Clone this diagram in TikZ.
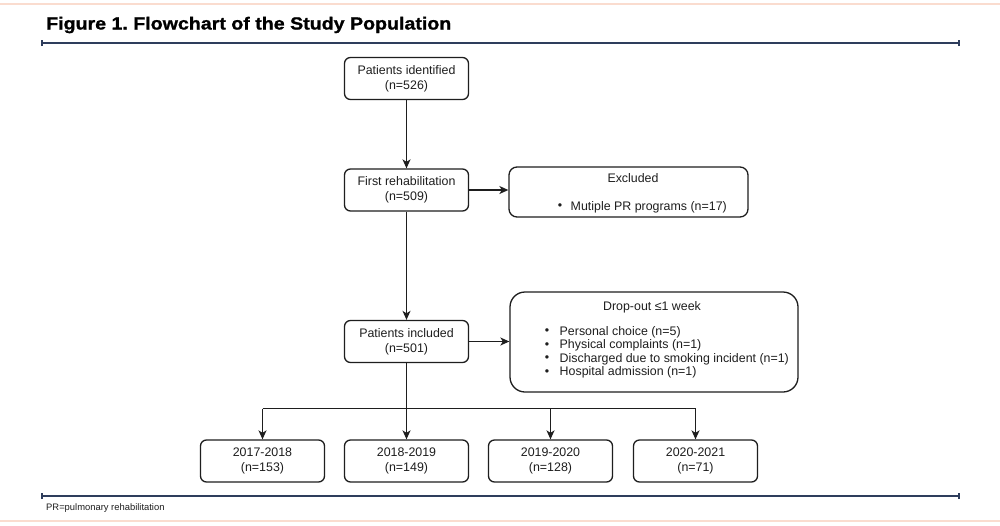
\documentclass[tikz,border=0pt]{standalone}
\usepackage{fontspec}
\setmainfont{Liberation Sans}
\newfontfamily\titlefont[FakeStretch=1.12,FakeBold=1.2]{Liberation Sans Bold}
\usetikzlibrary{arrows.meta}
\definecolor{linec}{HTML}{1E1E1E}
\definecolor{rulec}{HTML}{2E3D5C}
\definecolor{peach}{HTML}{FADCCF}
\frenchspacing
\begin{document}
\begin{tikzpicture}[x=1pt,y=-1pt,
  box/.style={draw=linec, line width=1.3pt, rounded corners=6pt, minimum width=124pt, minimum height=42pt, align=center, inner sep=0pt, text=linec, font=\fontsize{12.4}{15}\selectfont},
  bigbox/.style={draw=linec, line width=1.3pt, inner sep=0pt},
  txt/.style={inner sep=0pt, text=linec, font=\fontsize{12.4}{15}\selectfont},
  arr/.style={draw=linec, line width=1.3pt, -{Stealth[length=9pt,width=8pt,inset=2.5pt]}},
  ln/.style={draw=linec, line width=1.3pt},
  rule/.style={draw=rulec, line width=2pt},
  tick/.style={draw=rulec, line width=1.6pt}]
\useasboundingbox (0,0) rectangle (1000,525);
\fill[white] (0,0) rectangle (1000,525);
\fill[peach] (0,3) rectangle (1000,5);
\fill[peach] (0,519.5) rectangle (1000,521.5);

% title and rules
\node[anchor=base west, inner sep=0pt, font=\fontsize{17.5}{20}\titlefont] (title) at (46,29.5) {Figure 1. Flowchart of the Study Population};
\coordinate (r1a) at (42,43); \coordinate (r1b) at (959,43);
\draw[rule] (r1a) -- (r1b);
\draw[tick] ([yshift=-3pt]r1a) -- ([yshift=3pt]r1a);
\draw[tick] ([yshift=-3pt]r1b) -- ([yshift=3pt]r1b);
\coordinate (r2a) at (42,496); \coordinate (r2b) at (959,496);
\draw[rule] (r2a) -- (r2b);
\draw[tick] ([yshift=-3pt]r2a) -- ([yshift=3pt]r2a);
\draw[tick] ([yshift=-3pt]r2b) -- ([yshift=3pt]r2b);
\node[anchor=west, inner sep=0pt, font=\fontsize{9.4}{10}\selectfont, text=linec] (foot) at (46,508.5) {PR=pulmonary rehabilitation};

% main boxes
\node[box] (ident) at (406.5,78.5) {Patients identified\\(n=526)};
\node[box] (first) at (406.5,190) {First rehabilitation\\(n=509)};
\node[box] (incl) at (406.5,341.5) {Patients included\\(n=501)};

% excluded box
\node[bigbox, rounded corners=8pt, minimum width=239pt, minimum height=50pt] (excl) at (628.5,192) {};
\node[txt] (exclt) at (633,178.5) {Excluded};
\node[txt] (exclb) at (560,207) {•};
\node[txt, anchor=west] (excl1) at (570.5,207) {Mutiple PR programs (n=17)};

% drop-out box
\node[bigbox, rounded corners=15pt, minimum width=288pt, minimum height=100pt] (drop) at (654,342) {};
\node[txt] (dropt) at (652,307) {Drop-out ≤1 week};
\foreach \y/\t [count=\i] in {332/Personal choice (n=5), 345.5/Physical complaints (n=1), 359/Discharged due to smoking incident (n=1), 372.5/Hospital admission (n=1)}{
  \node[txt] (db\i) at (547,\y) {•};
  \node[txt, anchor=west] (dl\i) at (559.5,\y) {\t};
}

% year boxes
\node[box] (y1) at (262.5,461) {2017-2018\\(n=153)};
\node[box] (y2) at (406.5,461) {2018-2019\\(n=149)};
\node[box] (y3) at (550.5,461) {2019-2020\\(n=128)};
\node[box] (y4) at (695.5,461) {2020-2021\\(n=71)};

% connectors
\draw[arr] (ident) -- (first);
\draw[arr] (first.east) -- (first.east -| excl.west);
\draw[arr] (first) -- (incl);
\draw[arr] (incl.east) -- (incl.east -| drop.west);
\draw[arr] (incl) -- (y2);
\coordinate (hl) at (262.5,408.5);
\coordinate (hr) at (695.5,408.5);
\draw[ln] (hl) -- (hr);
\draw[arr] (hl) -- (y1);
\draw[arr] (y3 |- hl) -- (y3);
\draw[arr] (hr) -- (y4);
\end{tikzpicture}
\end{document}
